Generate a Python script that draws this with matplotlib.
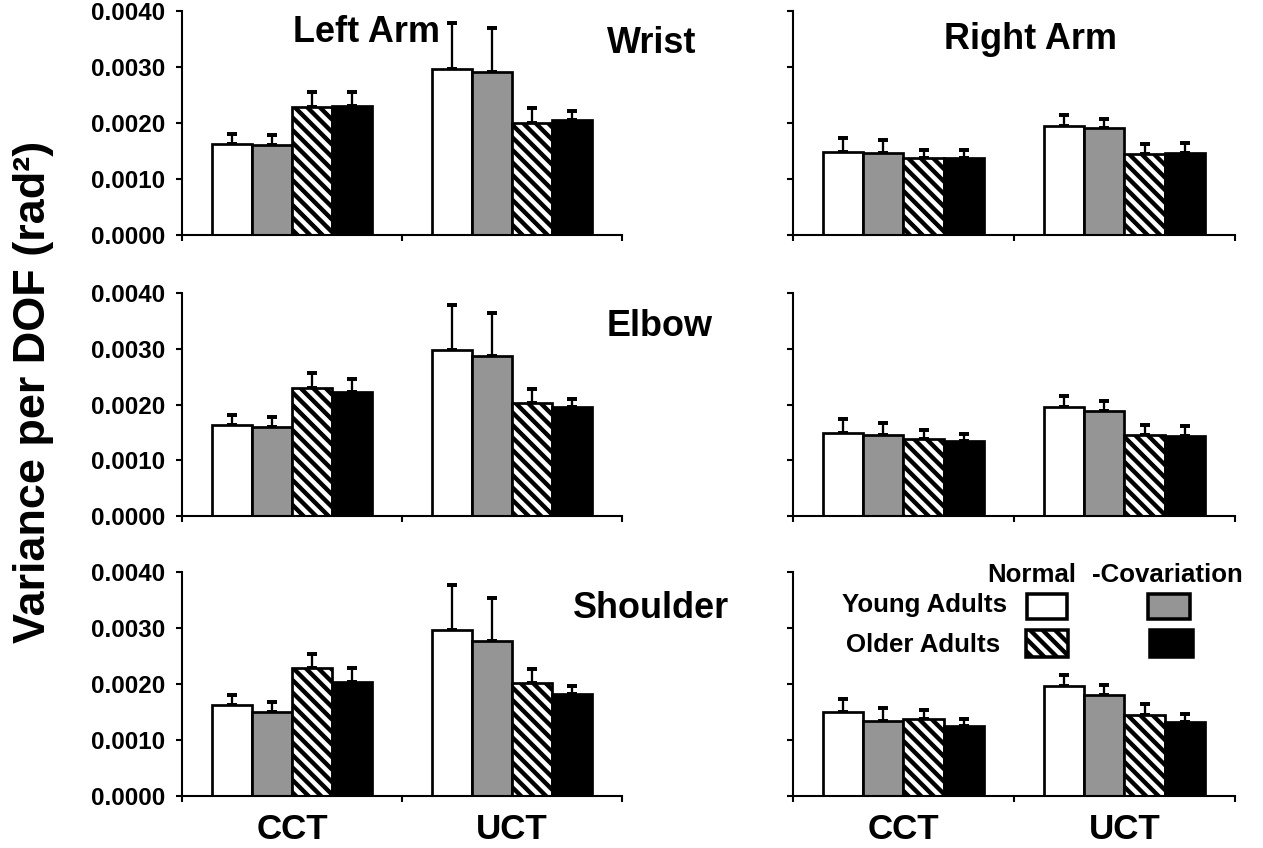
import matplotlib
matplotlib.use("Agg")
import matplotlib.pyplot as plt
from matplotlib.patches import Rectangle
import numpy as np

# ---------------- data (values x 1e-3 rad^2) ----------------
categories = ["CCT", "UCT"]
series = ["Young Normal", "Young -Covariation", "Older Normal", "Older -Covariation"]

wrist_left = [[1.625, 1.60, 2.28, 2.31], [2.964, 2.91, 2.005, 2.06]]
wrist_left_err = [[0.175, 0.18, 0.27, 0.24], [0.82, 0.78, 0.26, 0.15]]
wrist_right = [[1.49, 1.46, 1.38, 1.375], [1.95, 1.91, 1.446, 1.46]]
wrist_right_err = [[0.25, 0.24, 0.14, 0.15], [0.19, 0.17, 0.18, 0.18]]

elbow_left = [[1.63, 1.59, 2.29, 2.22], [2.976, 2.874, 2.018, 1.958]]
elbow_left_err = [[0.185, 0.19, 0.27, 0.24], [0.81, 0.77, 0.26, 0.14]]
elbow_right = [[1.487, 1.445, 1.385, 1.337], [1.958, 1.875, 1.457, 1.427]]
elbow_right_err = [[0.26, 0.23, 0.15, 0.14], [0.20, 0.18, 0.18, 0.18]]

shoulder_left = [[1.625, 1.506, 2.28, 2.042], [2.964, 2.768, 2.012, 1.821]]
shoulder_left_err = [[0.18, 0.17, 0.26, 0.24], [0.81, 0.77, 0.25, 0.14]]
shoulder_right = [[1.493, 1.343, 1.373, 1.254], [1.958, 1.797, 1.451, 1.313]]
shoulder_right_err = [[0.24, 0.23, 0.16, 0.12], [0.20, 0.19, 0.19, 0.16]]

yticks = [0.0, 0.001, 0.002, 0.003, 0.004]
ytick_labels = ["0.0000", "0.0010", "0.0020", "0.0030", "0.0040"]
joint_names = ["Wrist", "Elbow", "Shoulder"]
arm_names = ["Left Arm", "Right Arm"]
scale = 1e-3

# ---------------- style ----------------
plt.rcParams["font.family"] = ["Liberation Sans", "DejaVu Sans"]
plt.rcParams["font.weight"] = "bold"
plt.rcParams["hatch.linewidth"] = 2.1
plt.rcParams["axes.linewidth"] = 1.0

face_colors = ["white", "#959595", "white", "black"]
hatches = [None, None, "\\\\\\\\", None]

W, H, DPI = 1264, 848, 150
fig = plt.figure(figsize=(W / DPI, H / DPI), dpi=DPI)

col_x = [182, 793]
col_w = [440, 442]
row_top = [11, 293, 572]
row_bot = [235, 516, 796]

panels = [
    [(wrist_left, wrist_left_err), (wrist_right, wrist_right_err)],
    [(elbow_left, elbow_left_err), (elbow_right, elbow_right_err)],
    [(shoulder_left, shoulder_left_err), (shoulder_right, shoulder_right_err)],
]

bw = 0.182
axes = {}
for r in range(3):
    for c in range(2):
        means, errs = panels[r][c]
        ax = fig.add_axes([col_x[c] / W, 1 - row_bot[r] / H,
                           col_w[c] / W, (row_bot[r] - row_top[r]) / H])
        axes[(r, c)] = ax
        xc = np.arange(len(categories)) + 0.5
        for i in range(len(series)):
            pos = xc + (i - 1.5) * bw
            vals = np.array([means[k][i] for k in range(len(categories))]) * scale
            ev = np.array([errs[k][i] for k in range(len(categories))]) * scale
            ax.errorbar(pos, vals, yerr=[np.zeros_like(ev), ev], fmt="none",
                        ecolor="black", elinewidth=1.1, capsize=2.6,
                        capthick=1.9, zorder=1)
            ax.bar(pos, vals, bw, color=face_colors[i], edgecolor="black",
                   linewidth=1.3, hatch=hatches[i], zorder=2)
        ax.set_xlim(0, 2)
        ax.set_ylim(0, 0.004)
        ax.set_xticks([0, 1, 2])
        ax.set_xticklabels([])
        ax.set_yticks(yticks)
        if c == 0:
            ax.set_yticklabels(ytick_labels)
        else:
            ax.set_yticklabels([])
        ax.spines["top"].set_visible(False)
        ax.spines["right"].set_visible(False)
        ax.tick_params(which="major", direction="out", length=3, width=1.0,
                       labelsize=11.6, pad=5.0)
        if r == 2:
            ax.set_xticks(xc, minor=True)
            ax.set_xticklabels(categories, minor=True)
            ax.tick_params(which="minor", length=0, labelsize=16.8, pad=8)

# panel titles
axes[(0, 0)].text(0.420, 0.902, arm_names[0], transform=axes[(0, 0)].transAxes,
                  ha="center", va="center", fontsize=17.3, fontweight="bold")
axes[(0, 1)].text(0.538, 0.871, arm_names[1], transform=axes[(0, 1)].transAxes,
                  ha="center", va="center", fontsize=17.3, fontweight="bold")
title_pos = [(1.068, 0.853), (1.086, 0.848), (1.066, 0.839)]
for r in range(3):
    tx, ty = title_pos[r]
    axes[(r, 0)].text(tx, ty, joint_names[r], transform=axes[(r, 0)].transAxes,
                      ha="center", va="center", fontsize=17.3, fontweight="bold",
                      clip_on=False)

# y label
fig.text(34 / W, 1 - 392 / H, "Variance per DOF (rad²)", rotation=90,
         ha="center", va="center", fontsize=21.6, fontweight="bold")

# legend (in bottom-right axes)
lax = axes[(2, 1)]
tr = lax.transAxes
lax.text(0.541, 0.987, "Normal", transform=tr, ha="center", va="center",
         fontsize=12.4, fontweight="bold", clip_on=False)
lax.text(0.846, 0.987, "-Covariation", transform=tr, ha="center", va="center",
         fontsize=12.4, fontweight="bold", clip_on=False)
lax.text(0.484, 0.853, "Young Adults", transform=tr, ha="right", va="center",
         fontsize=12.4, fontweight="bold")
lax.text(0.468, 0.674, "Older Adults", transform=tr, ha="right", va="center",
         fontsize=12.4, fontweight="bold")
boxes = [(0.529, 0.790, 0.091, 0.112), (0.803, 0.790, 0.095, 0.112),
         (0.527, 0.621, 0.095, 0.120), (0.808, 0.621, 0.097, 0.120)]
for i, (bx, by, bwid, bh) in enumerate(boxes):
    lax.add_patch(Rectangle((bx, by), bwid, bh, transform=tr,
                            facecolor=face_colors[i], edgecolor="black",
                            linewidth=1.7, hatch=hatches[i], clip_on=False,
                            zorder=3))

fig.savefig("out.png", dpi=DPI)
